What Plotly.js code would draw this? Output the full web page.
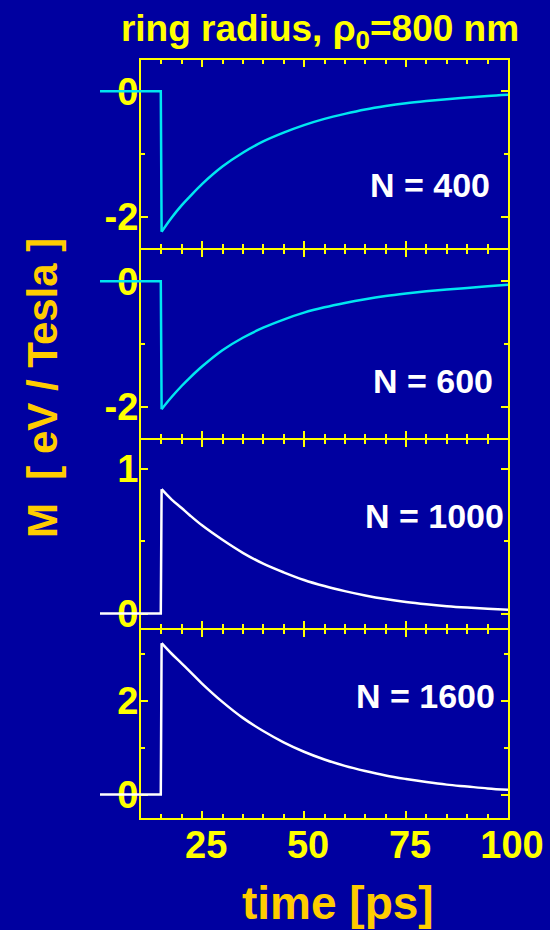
<!DOCTYPE html>
<html>
<head>
<meta charset="utf-8">
<script src="https://cdn.plot.ly/plotly-3.0.1.min.js"></script>
<style>html,body{margin:0;padding:0;background:#0000a0;}</style>
</head>
<body>
<div id="chart" style="width:550px;height:930px;"></div>
<script>
// ---- data ----
const timePs = [0, 14.9, 15.1, 17.5, 20, 22, 25, 30, 35, 40, 45, 50, 55, 60, 65, 70, 75, 80, 85, 90, 95, 100];
const mN400  = [0, 0, -2.24, -2.02, -1.82, -1.68, -1.48, -1.20, -0.98, -0.80, -0.66, -0.54, -0.44, -0.36, -0.29, -0.235, -0.19, -0.155, -0.125, -0.10, -0.075, -0.055];
const mN600  = [0, 0, -2.04, -1.85, -1.67, -1.54, -1.36, -1.10, -0.90, -0.74, -0.61, -0.50, -0.415, -0.345, -0.285, -0.235, -0.195, -0.16, -0.13, -0.105, -0.08, -0.055];
const mN1000 = [0, 0, 0.86, 0.79, 0.73, 0.68, 0.61, 0.51, 0.42, 0.345, 0.285, 0.232, 0.19, 0.155, 0.125, 0.10, 0.08, 0.064, 0.051, 0.041, 0.033, 0.026];
const mN1600 = [0, 0, 3.22, 3.00, 2.79, 2.62, 2.36, 1.97, 1.63, 1.35, 1.11, 0.91, 0.745, 0.61, 0.50, 0.405, 0.33, 0.265, 0.21, 0.17, 0.13, 0.10];
const panelLabels = ["N = 400", "N = 600", "N = 1000", "N = 1600"];
const xTickVals = [25, 50, 75, 100];
const xTickText = ["25", "50", "75", "100"];
const yTickValsNeg = [-2, 0];
const yTickTextNeg = ["-2", "0"];
const yTickVals1000 = [0, 1];
const yTickText1000 = ["0", "1"];
const yTickVals1600 = [0, 2];
const yTickText1600 = ["0", "2"];
const titleText = "ring radius, ρ<sub>0</sub>=800 nm";
const xTitleText = "time [ps]";
const yTitleText = "M\u00a0 [ eV / Tesla ]";

// ---- styling ----
const W = 550, H = 930;
const BG = "#0000a0", YEL = "#ffff00", ORG = "#ffcc00", CYAN = "#00e6f0", WHITE = "#ffffff";
const FONT = "Liberation Sans, Arial, sans-serif";
const px2x = p => p / W;
const px2y = p => 1 - p / H;
const frameX = [px2x(141), px2x(508)];
const wideX = [px2x(100), px2x(508)];
const panelsPx = [[60, 248], [250, 438], [440, 628], [630, 818]];
const yDomains = panelsPx.map(p => [px2y(p[1]), px2y(p[0])]);
const yRanges = [[-2.5, 0.5], [-2.5, 0.5], [-0.1, 1.2], [-0.5, 3.5]];
const yTicks = [[yTickValsNeg, yTickTextNeg, 1], [yTickValsNeg, yTickTextNeg, 1], [yTickVals1000, yTickText1000, 0.5], [yTickVals1600, yTickText1600, 1]];
const series = [mN400, mN600, mN1000, mN1600];
const colors = [CYAN, CYAN, WHITE, WHITE];
const labelPos = [[430, 185], [433, 381], [434, 516], [425, 696]];

const layout = {
  width: W, height: H,
  margin: {l: 0, r: 0, t: 0, b: 0},
  paper_bgcolor: BG, plot_bgcolor: "rgba(0,0,0,0)",
  showlegend: false,
  font: {family: FONT, weight: 700, color: YEL},
  title: {text: titleText, x: px2x(320), xanchor: "center", y: px2y(28), yanchor: "middle",
          font: {family: FONT, weight: 700, size: 37, color: YEL}},
  annotations: []
};
const frameTraces = [];
const curveTraces = [];

for (let i = 0; i < 4; i++) {
  const n = i + 1, m = i + 5;
  const xs = n === 1 ? "" : String(n);
  layout["xaxis" + xs] = {
    domain: frameX, range: [10, 100], anchor: "y" + xs,
    showline: true, linecolor: YEL, linewidth: 2, mirror: "allticks",
    ticks: "inside", ticklen: 7, tickwidth: 2, tickcolor: YEL,
    tickmode: "array", tickvals: xTickVals, ticktext: xTickText,
    showticklabels: i === 3, ticklabelshift: 4, ticklabelstandoff: -8,
    tickfont: {family: FONT, weight: 700, size: 38, color: YEL},
    showgrid: false, zeroline: false, fixedrange: true,
    minor: {ticks: "inside", dtick: 5, tick0: 0, ticklen: 4, tickwidth: 1.5, tickcolor: YEL, showgrid: false}
  };
  layout["yaxis" + xs] = {
    domain: yDomains[i], range: yRanges[i], anchor: "x" + xs,
    showline: true, linecolor: YEL, linewidth: 2, mirror: "allticks",
    ticks: "inside", ticklen: 7, tickwidth: 2, tickcolor: YEL,
    tickmode: "array", tickvals: yTicks[i][0], ticktext: yTicks[i][1],
    tickfont: {family: FONT, weight: 700, size: 38, color: YEL},
    ticklabelstandoff: -7,
    showgrid: false, zeroline: false, fixedrange: true,
    minor: {ticks: "inside", dtick: yTicks[i][2], tick0: 0, ticklen: 4, tickwidth: 1.5, tickcolor: YEL, showgrid: false}
  };
  // empty trace so the framed subplot is drawn
  frameTraces.push({type: "scatter", mode: "lines", x: [], y: [], xaxis: "x" + xs, yaxis: "y" + xs, hoverinfo: "skip"});
  // wider, hidden axes so the curve can start left of the frame (t = 0)
  layout["xaxis" + m] = {domain: wideX, range: [0, 100], anchor: "y" + m, visible: false, fixedrange: true};
  layout["yaxis" + m] = {domain: yDomains[i], range: yRanges[i], anchor: "x" + m, visible: false, fixedrange: true};
  // baseline + step (straight), then the decay (smoothed)
  curveTraces.push({
    type: "scatter", mode: "lines", x: timePs.slice(0, 3), y: series[i].slice(0, 3),
    xaxis: "x" + m, yaxis: "y" + m,
    line: {color: colors[i], width: 2.5}, hoverinfo: "skip"
  });
  curveTraces.push({
    type: "scatter", mode: "lines", x: timePs.slice(2), y: series[i].slice(2),
    xaxis: "x" + m, yaxis: "y" + m,
    line: {color: colors[i], width: 2.5, shape: "spline", smoothing: 1}, hoverinfo: "skip"
  });
  layout.annotations.push({
    text: panelLabels[i], xref: "paper", yref: "paper",
    x: px2x(labelPos[i][0]), y: px2y(labelPos[i][1]), xanchor: "center", yanchor: "middle",
    showarrow: false, font: {family: FONT, weight: 700, size: 34, color: WHITE}
  });
}

layout.annotations.push({
  text: xTitleText, xref: "paper", yref: "paper",
  x: px2x(338), y: px2y(903), xanchor: "center", yanchor: "middle",
  showarrow: false, font: {family: FONT, weight: 700, size: 46, color: ORG}
});
layout.annotations.push({
  text: yTitleText, xref: "paper", yref: "paper", textangle: -90,
  x: px2x(42), y: px2y(388), xanchor: "center", yanchor: "middle",
  showarrow: false, font: {family: FONT, weight: 700, size: 42, color: ORG}
});

Plotly.newPlot("chart", frameTraces.concat(curveTraces), layout, {displayModeBar: false, responsive: false});
</script>
</body>
</html>
